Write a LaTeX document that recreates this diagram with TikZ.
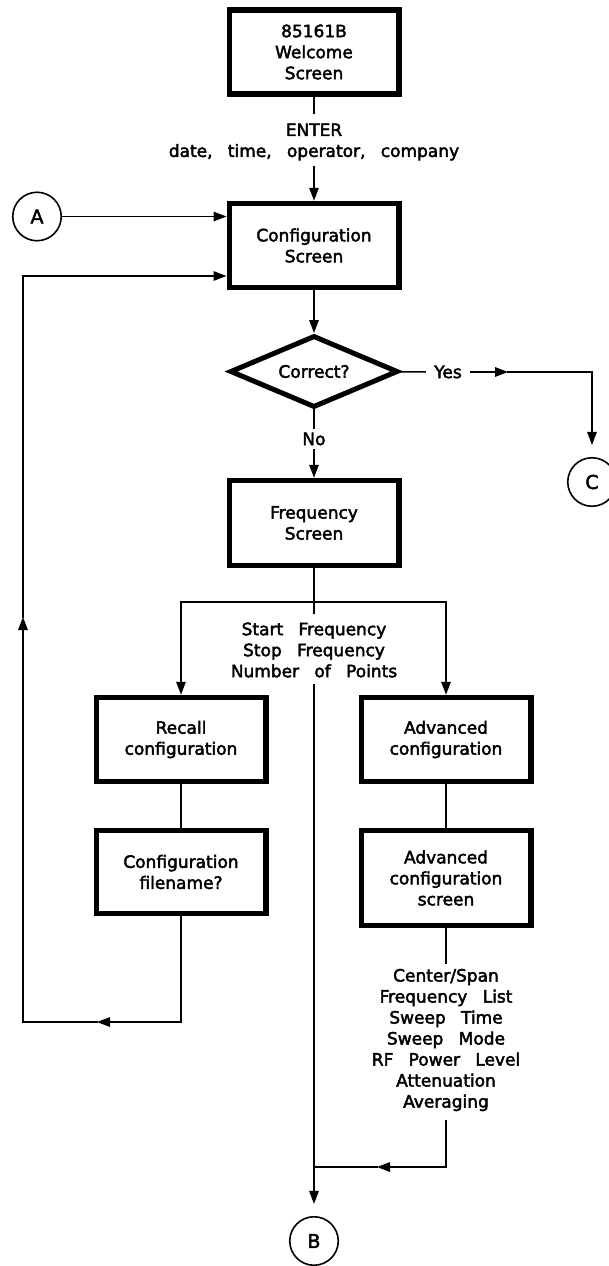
\documentclass[tikz,border=0pt]{standalone}
\usepackage{fontspec}
\setmainfont{DejaVu Sans}[BoldFont=DejaVu Sans, BoldFeatures={FakeBold=2.5}]
\usetikzlibrary{arrows.meta,shapes.geometric,calc}
\newcommand\wgap{\hspace{0.9em}}
\begin{document}
\begin{tikzpicture}[x=1pt,y=-1pt,
  every node/.style={font=\fontsize{17pt}{21pt}\selectfont\bfseries},
  box/.style={draw, line width=5.5pt, minimum width=169.5pt, minimum height=84pt, align=center, inner sep=0pt},
  lbl/.style={align=center, inner sep=0pt},
  conn/.style={line width=1.4pt, line cap=rect},
  tip/.style={-{Triangle[length=13pt,width=9.5pt]}},
  arr/.style={conn, tip},
  conncirc/.style={draw, circle, line width=1.6pt, minimum size=48.5pt, inner sep=0pt, font=\fontsize{19pt}{21pt}\selectfont\bfseries}
]
\useasboundingbox (0,0) rectangle (608,1266);

% top column
\node[box] (welcome) at (314,52) {85161B\\Welcome\\Screen};
\coordinate (e1) at (314,113);
\node[lbl] (enter) at (314,142) {ENTER\\date,\wgap time,\wgap operator,\wgap company};
\coordinate (e2) at (314,167);
\node[box] (config) at (314,245.5) {Configuration\\Screen};
\draw[conn] (welcome) -- (e1);
\draw[arr] (e2) -- (config);

% connector A
\node[conncirc] (A) at (37,216.5) {A};
\draw[arr] (A) -- (A -| config.west);

% decision
\node[diamond, draw, line width=5pt, minimum width=168pt, minimum height=72pt, inner sep=0pt, aspect=2.3] (dec) at (314,371.5) {Correct?};
\draw[arr] (config) -- (dec);
\node[lbl, inner xsep=9pt] (yes) at (448,372) {Yes};
\coordinate (yc) at (592,372);
\coordinate (ym) at (508,372);
\node[conncirc] (C) at (592,482) {C};
\draw[conn] (dec) -- (yes);
\draw[arr] (yes.east) -- (ym);
\draw[conn] (ym) -- (yc);
\draw[arr, shorten >=12pt] (yc) -- (C);

\node[lbl, inner sep=4pt] (no) at (314,439) {No};
\node[box, minimum height=85pt] (freq) at (314,523) {Frequency\\Screen};
\draw[conn] (dec) -- (no);
\draw[arr] (no) -- (freq);

% branch
\coordinate (bl) at (181,602);
\coordinate (bR) at (446,602);
\coordinate (f1) at (314,613);
\coordinate (f2) at (314,685);
\node[lbl] (flist) at (314,650) {Start\wgap Frequency\\Stop\wgap Frequency\\Number\wgap of\wgap Points};
\draw[conn] (freq) -- (f1);
\draw[conn] (bl) -- (bR);

\node[box] (recall) at (181,739.5) {Recall\\configuration};
\node[box] (adv) at (446,739.5) {Advanced\\configuration};
\draw[arr] (bl) -- (recall);
\draw[arr] (bR) -- (adv);

\node[box, minimum height=83pt] (cfname) at (181,872) {Configuration\\filename?};
\node[box, minimum height=95pt] (advscr) at (446,878) {Advanced\\configuration\\screen};
\draw[conn] (recall) -- (cfname);
\draw[conn] (adv) -- (advscr);

% advanced list
\coordinate (a1) at (446,963);
\coordinate (a2) at (446,1121);
\coordinate (a3) at (446,1167);
\coordinate (am) at (377,1167);
\coordinate (m) at (314,1167);
\node[lbl] (alist) at (446,1040) {Center/Span\\Frequency\wgap List\\Sweep\wgap Time\\Sweep\wgap Mode\\RF\wgap Power\wgap Level\\Attenuation\\Averaging};
\draw[conn] (advscr) -- (a1);
\draw[conn] (a2) -- (a3);
\draw[arr] (a3) -- (am);
\draw[conn] (am) -- (m);

\node[conncirc] (B) at (314,1241) {B};
\draw[arr, shorten >=12pt] (f2) -- (B);

% loop back
\coordinate (l1) at (181,1022);
\coordinate (lm) at (97,1022);
\coordinate (l2) at (23,1022);
\coordinate (lv) at (23,617);
\coordinate (l3) at (23,276);
\draw[conn] (cfname) -- (l1);
\draw[arr] (l1) -- (lm);
\draw[conn] (lm) -- (l2);
\draw[arr] (l2) -- (lv);
\draw[conn] (lv) -- (l3);
\draw[arr] (l3) -- (l3 -| config.west);
\end{tikzpicture}
\end{document}
